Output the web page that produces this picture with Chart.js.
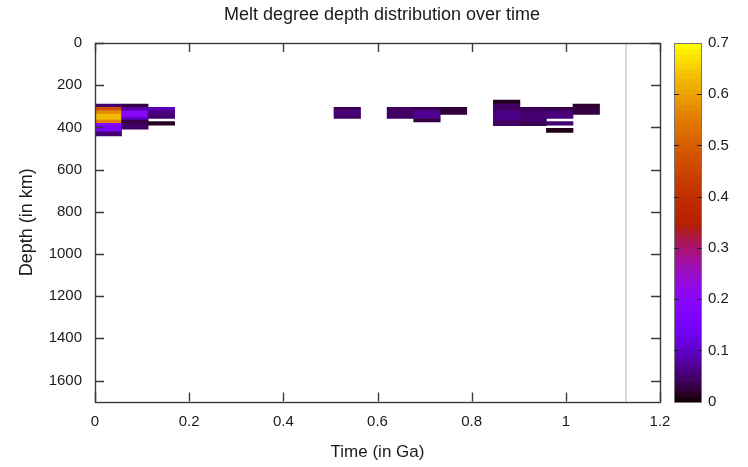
<!DOCTYPE html>
<html>
<head>
<meta charset="utf-8">
<script src="https://cdn.jsdelivr.net/npm/chart.js@4.4.0/dist/chart.umd.min.js"></script>
<style>
html,body{margin:0;padding:0;background:#fff;}
#wrap{width:748px;height:467px;position:relative;}
</style>
</head>
<body>
<div id="wrap"><canvas id="c" width="748" height="467"></canvas></div>
<script>
// ---- data ----
const chartTitle = 'Melt degree depth distribution over time';
const xTitle = 'Time (in Ga)';
const yTitle = 'Depth (in km)';
const xTicks = [0, 0.2, 0.4, 0.6, 0.8, 1, 1.2];
const yTicks = [0, 200, 400, 600, 800, 1000, 1200, 1400, 1600];
const cbTicks = [0, 0.1, 0.2, 0.3, 0.4, 0.5, 0.6, 0.7];
const timeMax = 1.2;
const depthMax = 1700;
const meltMax = 0.7;
const endTime = 1.128;

// cells: time bin centre (Ga), top depth (km), bottom depth (km), melt degree
const cellTime   = [0.0282,0.0282,0.0282,0.0282,0.0282,0.0282,0.0282,0.0282,
                    0.0846,0.0846,0.0846,0.0846,0.0846,0.0846,
                    0.141,0.141,0.141,0.141,
                    0.5358,0.5358,0.5358,
                    0.6486,
                    0.705,0.705,0.705,
                    0.7614,
                    0.8742,0.8742,0.8742,0.8742,
                    0.9306,0.9306,0.9306,
                    0.987,0.987,0.987,0.987,
                    1.0434,1.0434];
const cellTop    = [290,305,321,337,366,381,397,421,
                    290,305,321,351,366,382,
                    305,321,340,373,
                    305,320,340,
                    305,
                    305,321,358,
                    305,
                    271,290,321,366,
                    305,326,374,
                    305,321,372,405,
                    290,305];
const cellBottom = [305,321,337,366,381,397,421,440,
                    305,321,351,366,382,408,
                    321,340,357,389,
                    320,340,358,
                    358,
                    321,358,374,
                    339,
                    290,321,366,392,
                    326,374,392,
                    321,358,390,424,
                    305,339];
const cellMelt   = [0.05,0.48,0.57,0.63,0.56,0.18,0.16,0.05,
                    0.03,0.08,0.2,0.1,0.03,0.045,
                    0.09,0.06,0.05,0.015,
                    0.04,0.055,0.045,
                    0.045,
                    0.04,0.07,0.03,
                    0.025,
                    0.015,0.045,0.062,0.045,
                    0.04,0.05,0.035,
                    0.035,0.055,0.05,0.01,
                    0.02,0.03];

// ---- palette (gnuplot rgbformulae 7,5,15) ----
function palette(v){
  const x = Math.min(1, Math.max(0, v / meltMax));
  const r = Math.sqrt(x), g = x*x*x, b = Math.max(0, Math.sin(2*Math.PI*x));
  return 'rgb(' + Math.round(r*255) + ',' + Math.round(g*255) + ',' + Math.round(b*255) + ')';
}

const cells = cellTime.map((t, i) => ({x: t, y: [cellTop[i], cellBottom[i]], v: cellMelt[i]}));

const FONT = 'Liberation Sans, Arial, sans-serif';
const TEXT = '#1a1a1a';
const AXIS = '#3a3a3a';

const framePlugin = {
  id: 'frame',
  afterDraw(chart){
    const ctx = chart.ctx, a = chart.chartArea;
    const xs = chart.scales.x, ys = chart.scales.y, cb = chart.scales.cb;
    ctx.save();
    ctx.strokeStyle = AXIS;
    ctx.lineWidth = 1.4;
    const tl = 9;
    ctx.beginPath();
    xTicks.forEach(v => {
      const px = Math.round(xs.getPixelForValue(v)) + 0.5;
      ctx.moveTo(px, a.bottom); ctx.lineTo(px, a.bottom - tl);
      ctx.moveTo(px, a.top); ctx.lineTo(px, a.top + tl);
    });
    yTicks.forEach(v => {
      const py = Math.round(ys.getPixelForValue(v)) + 0.5;
      ctx.moveTo(a.left, py); ctx.lineTo(a.left + tl, py);
      ctx.moveTo(a.right, py); ctx.lineTo(a.right - tl, py);
    });
    ctx.stroke();
    ctx.strokeRect(Math.round(a.left)+0.5, Math.round(a.top)+0.5, Math.round(a.right-a.left), Math.round(a.bottom-a.top));

    // colour bar
    const x0 = Math.round(cb.left) + 14, w = 28;
    const N = 70;
    for (let i = 0; i < N; i++){
      const v0 = i*meltMax/N, v1 = (i+1)*meltMax/N;
      const y0 = cb.getPixelForValue(v1), y1 = cb.getPixelForValue(v0);
      ctx.fillStyle = palette((v0+v1)/2);
      ctx.fillRect(x0, Math.floor(y0), w, Math.ceil(y1) - Math.floor(y0));
    }
    const yt = Math.round(cb.getPixelForValue(meltMax)), yb = Math.round(cb.getPixelForValue(0));
    ctx.strokeStyle = '#777';
    ctx.lineWidth = 1;
    ctx.strokeRect(x0+0.5, yt+0.5, w-1, yb-yt);
    ctx.strokeStyle = '#222';
    ctx.beginPath();
    cbTicks.forEach(v => {
      if (v === 0 || v === meltMax) return;
      const py = Math.round(cb.getPixelForValue(v)) + 0.5;
      ctx.moveTo(x0, py); ctx.lineTo(x0 + 5, py);
      ctx.moveTo(x0 + w, py); ctx.lineTo(x0 + w - 5, py);
    });
    ctx.stroke();
    ctx.restore();
  }
};

new Chart(document.getElementById('c'), {
  type: 'bar',
  data: {
    datasets: [
      {
        type: 'bar',
        data: cells,
        backgroundColor: c => palette(c.raw ? c.raw.v : 0),
        borderWidth: 0,
        barPercentage: 1,
        categoryPercentage: 1,
        grouped: false,
        xAxisID: 'x', yAxisID: 'y'
      },
      {
        type: 'line',
        data: [{x: endTime, y: 0}, {x: endTime, y: depthMax}],
        borderColor: '#d4d4d4',
        borderWidth: 1,
        pointRadius: 0,
        pointHoverRadius: 0,
        xAxisID: 'x', yAxisID: 'y'
      }
    ]
  },
  options: {
    responsive: false,
    animation: false,
    devicePixelRatio: 1,
    layout: {padding: {left: 16, right: 0, top: 0, bottom: 0}},
    plugins: {
      legend: {display: false},
      tooltip: {enabled: false},
      title: {
        display: true, text: chartTitle, color: TEXT,
        font: {family: FONT, size: 18, weight: 'normal'},
        padding: {top: 4, bottom: 17.4}
      }
    },
    scales: {
      x: {
        type: 'linear', min: 0, max: timeMax, offset: false,
        afterBuildTicks: s => { s.ticks = xTicks.map(v => ({value: v})); },
        grid: {display: false, drawTicks: false, offset: false},
        border: {display: false},
        ticks: {padding: 11, color: TEXT, font: {family: FONT, size: 15}, maxRotation: 0, callback: v => String(v)},
        title: {display: true, text: xTitle, color: TEXT, font: {family: FONT, size: 17}, padding: {top: 1, bottom: 4}}
      },
      y: {
        type: 'linear', reverse: true, min: 0, max: depthMax,
        afterBuildTicks: s => { s.ticks = yTicks.map(v => ({value: v})); },
        afterFit: s => { s.width = 79; },
        grid: {display: false, drawTicks: false},
        border: {display: false},
        ticks: {padding: 13, color: TEXT, font: {family: FONT, size: 15}, callback: v => String(v)},
        title: {display: true, text: yTitle, color: TEXT, font: {family: FONT, size: 18}, padding: {top: 0, bottom: 0}}
      },
      cb: {
        type: 'linear', position: 'right', min: 0, max: meltMax,
        afterBuildTicks: s => { s.ticks = cbTicks.map(v => ({value: v})); },
        afterFit: s => { s.width = 88; s.paddingTop = 9; s.paddingBottom = 9; },
        grid: {display: false, drawTicks: false, drawOnChartArea: false},
        border: {display: false},
        ticks: {padding: 48, color: TEXT, font: {family: FONT, size: 15}, callback: v => String(v)}
      }
    }
  },
  plugins: [framePlugin]
});
</script>
</body>
</html>
